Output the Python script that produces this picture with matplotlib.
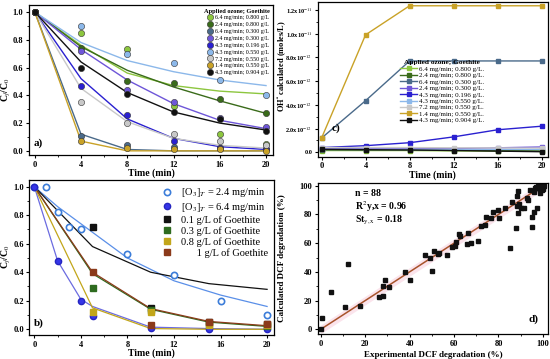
import matplotlib
matplotlib.use("Agg")
import matplotlib.pyplot as plt
import numpy as np
from matplotlib.ticker import MultipleLocator, FuncFormatter

plt.rcParams['font.family'] = ['Liberation Serif', 'DejaVu Serif']
plt.rcParams['mathtext.fontset'] = 'stix'
plt.rcParams['axes.linewidth'] = 0.9

# ---------------- Panel a data ----------------
t_a = [0, 4, 8, 12, 16, 20]
a_labels = ["6.4 mg/min; 0.800 g/L", "2.4 mg/min; 0.800 g/L", "6.4 mg/min; 0.300 g/L",
            "2.4 mg/min; 0.300 g/L", "4.3 mg/min; 0.196 g/L", "4.3 mg/min; 0.550 g/L",
            "7.2 mg/min; 0.550 g/L", "1.4 mg/min; 0.550 g/L", "4.3 mg/min; 0.904 g/L"]
a_colors = ["#8DC63F", "#3A6B1A", "#4A6A8A", "#6E56D8", "#2A20D0", "#8CB8EA",
            "#C8C8C8", "#C9A227", "#111111"]
a_points = [
    [1.0, 0.85, 0.73, 0.32, 0.12, 0.05],
    [1.0, 0.74, 0.50, 0.49, 0.37, 0.27],
    [1.0, 0.11, 0.04, 0.03, 0.02, 0.01],
    [1.0, 0.72, 0.44, 0.35, 0.24, 0.17],
    [1.0, 0.47, 0.26, 0.07, 0.02, 0.01],
    [1.0, 0.90, 0.70, 0.63, 0.51, 0.40],
    [1.0, 0.35, 0.20, 0.12, 0.07, 0.04],
    [1.0, 0.07, 0.02, 0.01, 0.01, 0.00],
    [1.0, 0.60, 0.41, 0.28, 0.23, 0.14],
]
a_fit = [
    [1.0, 0.76, 0.56, 0.47, 0.43, 0.41],
    [1.0, 0.75, 0.58, 0.46, 0.36, 0.27],
    [1.0, 0.12, 0.01, 0.00, 0.00, 0.00],
    [1.0, 0.73, 0.51, 0.34, 0.22, 0.16],
    [1.0, 0.52, 0.23, 0.09, 0.03, 0.01],
    [1.0, 0.78, 0.65, 0.57, 0.51, 0.47],
    [1.0, 0.45, 0.21, 0.09, 0.04, 0.02],
    [1.0, 0.07, 0.00, 0.00, 0.00, 0.00],
    [1.0, 0.64, 0.42, 0.28, 0.20, 0.15],
]

# ---------------- Panel c data (x1e-12 mol/L) ----------------
t_c = [0, 4, 8, 12, 16, 20]
c_labels = [s + "." for s in a_labels]
c_vals = [
    [0.15, 0.15, 0.15, 0.12, 0.10, 0.08],
    [0.20, 0.20, 0.20, 0.18, 0.15, 0.12],
    [1.2, 4.35, 7.7, 7.7, 7.7, 7.7],
    [0.30, 0.30, 0.30, 0.32, 0.38, 0.45],
    [0.40, 0.56, 0.81, 1.30, 1.90, 2.20],
    [0.30, 0.30, 0.30, 0.30, 0.30, 0.30],
    [0.40, 0.40, 0.40, 0.38, 0.37, 0.35],
    [1.2, 9.9, 12.35, 12.35, 12.35, 12.35],
    [0.25, 0.22, 0.20, 0.15, 0.10, 0.05],
]

# ---------------- Panel b data ----------------
b_open_t = [0, 1, 2, 3, 4, 8, 12, 16, 20]
b_open = [1.0, 1.0, 0.82, 0.72, 0.70, 0.53, 0.38, 0.20, 0.10]
b_open_fit_t = [0, 2, 4, 8, 12, 16, 20]
b_open_fit = [1.0, 0.86, 0.74, 0.50, 0.34, 0.24, 0.16]
b_fill_t = [0, 2, 4, 5, 10, 15, 20]
b_fill = [1.0, 0.48, 0.20, 0.09, 0.01, 0.0, 0.0]
b_fill_fit = [1.0, 0.48, 0.21, 0.16, 0.015, 0.005, 0.0]
b_sq_t = [5, 10, 15, 20]
b_sq_labels = ["0.1 g/L of Goethite", "0.3 g/L of Goethite", "0.8 g/L of Goethite",
               "\u2007\u2007\u20071 g/L of Goethite"]
b_sq_colors = ["#111111", "#2E6B1F", "#C2A61A", "#8B3A1A"]
b_sq = [
    [0.72, 0.15, 0.05, 0.04],
    [0.29, 0.135, 0.04, 0.02],
    [0.12, 0.12, 0.03, 0.03],
    [0.40, 0.03, 0.05, 0.04],
]
b_fit_t = [0, 5, 10, 15, 20]
b_fit = [
    [1.0, 0.58, 0.40, 0.32, 0.28],
    [1.0, 0.39, 0.14, 0.05, 0.02],
    [1.0, 0.15, 0.005, 0.0, 0.0],
    [1.0, 0.40, 0.145, 0.055, 0.025],
]

# ---------------- Panel d data ----------------
d_exp = [0.0, 0.5, 4.5, 12.2, 10.7, 17.8, 26.2, 27.9, 27.9, 28.7, 30.9, 37.7, 40.1,
         46.9, 49.3, 50.2, 50.8, 52.6, 53.2, 56.6, 59.0, 60.2, 60.8, 62.0, 62.6, 65.8,
         66.1, 67.6, 70.9, 72.1, 73.9, 74.4, 76.6, 77.7, 79.9, 80.4, 83.1, 85.2, 86.1,
         87.9, 88.2, 88.5, 88.8, 88.8, 89.4, 90.2, 91.3, 92.8, 93.1, 94.0, 95.2, 95.2,
         95.8, 96.2, 96.7, 97.3, 97.7, 98.5, 98.8, 99.2, 99.7, 100.0, 100.5, 98.5, 98.0,
         99.5, 97.0, 96.5, 99.0, 100.0]
d_calc = [0.0, 8.1, 26.2, 45.2, 15.5, 16.2, 22.7, 23.4, 30.2, 34.1, 29.5, 40.1, 34.6,
          51.5, 49.4, 40.6, 54.3, 52.4, 52.9, 51.7, 57.5, 58.2, 61.0, 66.1, 65.0, 59.4,
          66.8, 59.9, 61.7, 72.2, 72.6, 78.2, 77.3, 81.9, 83.3, 77.3, 84.2, 56.8, 88.4,
          70.3, 86.1, 93.0, 96.3, 80.7, 87.0, 84.2, 84.2, 91.2, 90.0, 97.0, 71.5, 78.4,
          81.4, 95.4, 98.1, 84.7, 98.6, 94.7, 97.0, 99.3, 98.6, 99.3, 100.0, 98.6, 99.8,
          97.0, 99.0, 98.5, 100.0, 97.5]
d_line = [0, 100]

W, H = 550, 359
fig = plt.figure(figsize=(5.5, 3.59), dpi=100)

tick_kw = dict(direction='out', labelsize=6, width=0.8, length=2.5, pad=1.5)
minor_kw = dict(direction='out', width=0.6, length=1.5)

def style(ax):
    ax.tick_params(which='major', **tick_kw)
    ax.tick_params(which='minor', **minor_kw)

def bold_ticks(ax):
    for lab in ax.get_xticklabels() + ax.get_yticklabels():
        lab.set_fontweight('bold')

def ylab(px, py, s, size):
    fig.text(px / W, 1 - py / H, s, rotation=90, ha='center', va='center',
             fontsize=size, fontweight='bold')

# ---------- Panel a ----------
ax = fig.add_axes([0.0527, 0.5682, 0.4436, 0.4178])
for lab, col, pts, fit in zip(a_labels, a_colors, a_points, a_fit):
    ax.plot(t_a, fit, '-', color=col, lw=1.0, zorder=2)
    ax.plot(t_a, pts, 'o', color=col, mec='#333333', mew=0.4, ms=4.5, label=lab, zorder=3)
ax.set_xlim(-0.5, 20.6)
ax.set_ylim(-0.03, 1.05)
ax.xaxis.set_major_locator(MultipleLocator(4))
ax.xaxis.set_minor_locator(MultipleLocator(2))
ax.yaxis.set_major_locator(MultipleLocator(0.2))
ax.yaxis.set_minor_locator(MultipleLocator(0.1))
ax.yaxis.set_major_formatter(FuncFormatter(lambda v, p: f"{v:.1f}"))
style(ax)
bold_ticks(ax)
ax.set_xlabel("Time (min)", fontsize=7, fontweight='bold', labelpad=0)
ylab(6, 90, r"C$_f$/C$_0$", 7)
leg = ax.legend(loc='upper right', fontsize=4.3, frameon=False, handlelength=1.0,
                handletextpad=0.4, labelspacing=0.28, borderaxespad=0.2,
                title="Applied ozone; Goethite", title_fontproperties={'size': 4.6, 'weight': 'bold'})
leg._legend_box.align = "right"
ax.text(0.02, 0.06, "a)", transform=ax.transAxes, fontsize=8, fontweight='bold')

# ---------- Panel c ----------
ax = fig.add_axes([0.578, 0.5635, 0.418, 0.431])
for lab, col, vals in zip(c_labels, a_colors, c_vals):
    ax.plot(t_c, np.array(vals) * 1e-12, '-s', color=col, lw=1.0, ms=2.2, label=lab)
ax.set_xlim(-0.33, 20.56)
ax.set_ylim(-0.37e-12, 12.67e-12)
ax.xaxis.set_major_locator(MultipleLocator(4))
ax.xaxis.set_minor_locator(MultipleLocator(2))
ax.yaxis.set_major_locator(MultipleLocator(2e-12))
ax.yaxis.set_minor_locator(MultipleLocator(1e-12))

def cfmt(v, p):
    if abs(v) < 1e-15:
        return "0.0"
    e = int(np.floor(np.log10(abs(v)) + 1e-9))
    m = v / 10 ** e
    return r"%.1fx10$^{%d}$" % (m, e)

ax.yaxis.set_major_formatter(FuncFormatter(cfmt))
style(ax)
ax.tick_params(axis='y', labelsize=4.6)
bold_ticks(ax)
ax.set_xlabel("Time (min)", fontsize=7, fontweight='bold', labelpad=0)
ylab(282, 66, r"OH$^{\bullet}$ calculated (moles/L)", 6)
leg = ax.legend(loc='upper left', bbox_to_anchor=(0.345, 0.64), fontsize=5, frameon=False,
                handlelength=2.5, handletextpad=0.2, labelspacing=0.08, borderaxespad=0,
                title="Applied ozone; Goethite", title_fontproperties={'size': 5.3, 'weight': 'bold'})
ax.text(0.06, 0.17, "c)", transform=ax.transAxes, fontsize=8, fontweight='bold')

# ---------- Panel b ----------
ax = fig.add_axes([0.0533, 0.0669, 0.445, 0.4318])
ax.plot(b_open_fit_t, b_open_fit, '-', color='#5A8FE8', lw=0.9)
ax.plot(b_fill_t, b_fill_fit, '-', color='#6B6BE0', lw=0.9)
for col, fit in zip(b_sq_colors, b_fit):
    ax.plot(b_fit_t, fit, '-', color=col, lw=0.9)
ax.plot(b_open_t, b_open, 'o', mfc='white', mec='#3C7DD9', mew=1.2, ms=4.5,
        label=r"[O$_3$]$_T$ = 2.4 mg/min")
ax.plot(b_fill_t, b_fill, 'o', color='#3535E8', mec='#2525C0', ms=4.5,
        label=r"[O$_3$]$_T$ = 6.4 mg/min")
for lab, col, sq in zip(b_sq_labels, b_sq_colors, b_sq):
    ax.plot(b_sq_t, sq, 's', color=col, ms=4, label=lab)
ax.set_xlim(-0.43, 20.6)
ax.set_ylim(-0.04, 1.047)
ax.xaxis.set_major_locator(MultipleLocator(4))
ax.xaxis.set_minor_locator(MultipleLocator(2))
ax.yaxis.set_major_locator(MultipleLocator(0.2))
ax.yaxis.set_minor_locator(MultipleLocator(0.1))
ax.yaxis.set_major_formatter(FuncFormatter(lambda v, p: f"{v:.1f}"))
style(ax)
bold_ticks(ax)
ax.set_xlabel("Time (min)", fontsize=7, fontweight='bold', labelpad=0)
ylab(6, 257, r"C$_f$/C$_0$", 7)
leg = ax.legend(loc='upper right', fontsize=7.5, frameon=False, handlelength=1.0,
                handletextpad=0.8, labelspacing=0.13, borderaxespad=0.2)
ax.text(0.02, 0.06, "b)", transform=ax.transAxes, fontsize=8, fontweight='bold')

# ---------- Panel d ----------
ax = fig.add_axes([0.5776, 0.0688, 0.4196, 0.4206])
ax.fill_between(d_line, [v - 3 for v in d_line], [v + 3 for v in d_line], color='#FBE4EC', lw=0)
ax.plot(d_line, d_line, '-', color='#A8532B', lw=1.1)
ax.plot(d_exp, d_calc, 's', color='#111111', ms=2.6)
ax.set_xlim(-1.4, 102.5)
ax.set_ylim(-3.5, 101.7)
ax.xaxis.set_major_locator(MultipleLocator(20))
ax.xaxis.set_minor_locator(MultipleLocator(10))
ax.yaxis.set_major_locator(MultipleLocator(20))
ax.yaxis.set_minor_locator(MultipleLocator(10))
style(ax)
bold_ticks(ax)
ax.set_xlabel("Experimental DCF degradation (%)", fontsize=6.5, fontweight='bold', labelpad=2)
ylab(282, 258, "Calculated DCF degradation (%)", 6.5)
ax.text(0.16, 0.93, "n = 88", transform=ax.transAxes, fontsize=7, fontweight='bold', va='center')
ax.text(0.16, 0.845, r"R$^2$y,x = 0.96", transform=ax.transAxes, fontsize=7, fontweight='bold', va='center')
ax.text(0.16, 0.755, r"St$_{\mathrm{y,x}}$ = 0.18", transform=ax.transAxes, fontsize=7, fontweight='bold', va='center')
ax.text(0.955, 0.08, "d)", transform=ax.transAxes, fontsize=8, fontweight='bold', ha='right')

fig.savefig("out.png", dpi=100)
